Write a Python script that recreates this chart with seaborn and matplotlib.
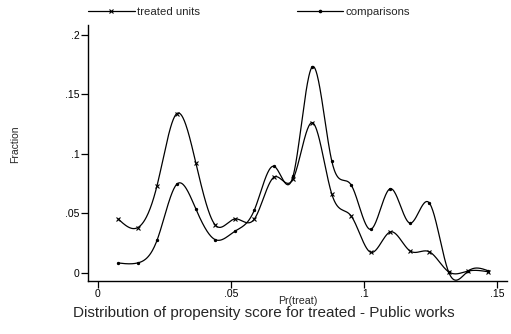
import numpy as np
import pandas as pd
import matplotlib
matplotlib.use("Agg")
import matplotlib.pyplot as plt
import seaborn as sns
from matplotlib.lines import Line2D

# ---- data ----
pscore = [0.0076, 0.0149, 0.0222, 0.0296, 0.0368, 0.0441, 0.0514, 0.0588,
          0.0661, 0.0734, 0.0806, 0.0879, 0.0952, 0.1025, 0.1099, 0.1172,
          0.1245, 0.1318, 0.1392, 0.1466]
treated = [0.0452, 0.0379, 0.0733, 0.1339, 0.0923, 0.0401, 0.0452, 0.0452,
           0.0803, 0.0792, 0.1263, 0.0662, 0.0477, 0.0172, 0.0343, 0.0185,
           0.0177, 0.0008, 0.0014, 0.0008]
comparisons = [0.0082, 0.0082, 0.0273, 0.0744, 0.0536, 0.0278, 0.0348, 0.0528,
               0.0896, 0.0817, 0.1734, 0.0940, 0.0738, 0.0365, 0.0707, 0.0418,
               0.0589, 0.0008, 0.0014, 0.0017]
xticks = [0, 0.05, 0.1, 0.15]
xticklabels = ["0", ".05", ".1", ".15"]
yticks = [0, 0.05, 0.1, 0.15, 0.2]
yticklabels = ["0", ".05", ".1", ".15", ".2"]

df = pd.DataFrame({"pscore": pscore, "treated units": treated,
                   "comparisons": comparisons})


def natural_spline(x, y, n=800):
    x = np.asarray(x, float)
    y = np.asarray(y, float)
    k = len(x)
    h = np.diff(x)
    A = np.zeros((k, k))
    r = np.zeros(k)
    A[0, 0] = 1
    A[-1, -1] = 1
    for i in range(1, k - 1):
        A[i, i - 1] = h[i - 1]
        A[i, i] = 2 * (h[i - 1] + h[i])
        A[i, i + 1] = h[i]
        r[i] = 6 * ((y[i + 1] - y[i]) / h[i] - (y[i] - y[i - 1]) / h[i - 1])
    M = np.linalg.solve(A, r)
    xs = np.linspace(x[0], x[-1], n)
    idx = np.clip(np.searchsorted(x, xs) - 1, 0, k - 2)
    x0, x1 = x[idx], x[idx + 1]
    hh = x1 - x0
    a = (x1 - xs) / hh
    b = (xs - x0) / hh
    ys = (a * y[idx] + b * y[idx + 1]
          + ((a ** 3 - a) * M[idx] + (b ** 3 - b) * M[idx + 1]) * hh ** 2 / 6)
    return xs, ys


sns.set_theme(style="ticks")
plt.rcParams["font.family"] = ["Liberation Sans", "DejaVu Sans"]

fig = plt.figure(figsize=(5.11, 3.34), dpi=100)
ax = fig.add_axes([88 / 511, 53 / 334, (506.5 - 88) / 511, (281 - 25) / 334])

for col, mk, ms in [("treated units", "x", 3), ("comparisons", "o", 1.6)]:
    xs, ys = natural_spline(df["pscore"], df[col])
    sm = pd.DataFrame({"x": xs, "y": ys})
    sns.lineplot(data=sm, x="x", y="y", ax=ax, color="black", lw=0.9,
                 estimator=None, sort=False)
    ax.plot(df["pscore"], df[col], linestyle="none", marker=mk, ms=ms,
            mec="black", mfc="black", mew=0.8)

ax.set_xlim(-0.00376, 0.1536)
ax.set_ylim(-0.007, 0.2085)
ax.set_xticks(xticks)
ax.set_xticklabels(xticklabels)
ax.set_yticks(yticks)
ax.set_yticklabels(yticklabels)
ax.tick_params(axis="both", direction="out", length=5, width=0.9,
               labelsize=7.5, colors="black", pad=1)
for s in ["top", "right"]:
    ax.spines[s].set_visible(False)
for s in ["left", "bottom"]:
    ax.spines[s].set_linewidth(1.0)
    ax.spines[s].set_color("black")
ax.set_xlabel("")
ax.set_ylabel("")
fig.text(297.5 / 511, 1 - 301 / 334, "Pr(treat)", fontsize=7.7,
         ha="center", va="center")
fig.text(15 / 511, 1 - 144 / 334, "Fraction", rotation=90, fontsize=7.5,
         ha="center", va="center")
fig.text(264 / 511, 1 - 313 / 334,
         "Distribution of propensity score for treated - Public works",
         fontsize=11, ha="center", va="center")

# legend
handles = [Line2D([], [], color="black", lw=0.9, marker="x", ms=3, mew=0.8),
           Line2D([], [], color="black", lw=0.9, marker="o", ms=1.6)]
fig.legend(handles, ["treated units", "comparisons"], ncol=2,
           loc="center left", bbox_to_anchor=(88 / 511, 1 - 12 / 334),
           frameon=False, fontsize=8.2, handlelength=4.1, handletextpad=0.2,
           columnspacing=8.5, numpoints=1, borderaxespad=0, borderpad=0)

fig.savefig("out.png", dpi=100)
